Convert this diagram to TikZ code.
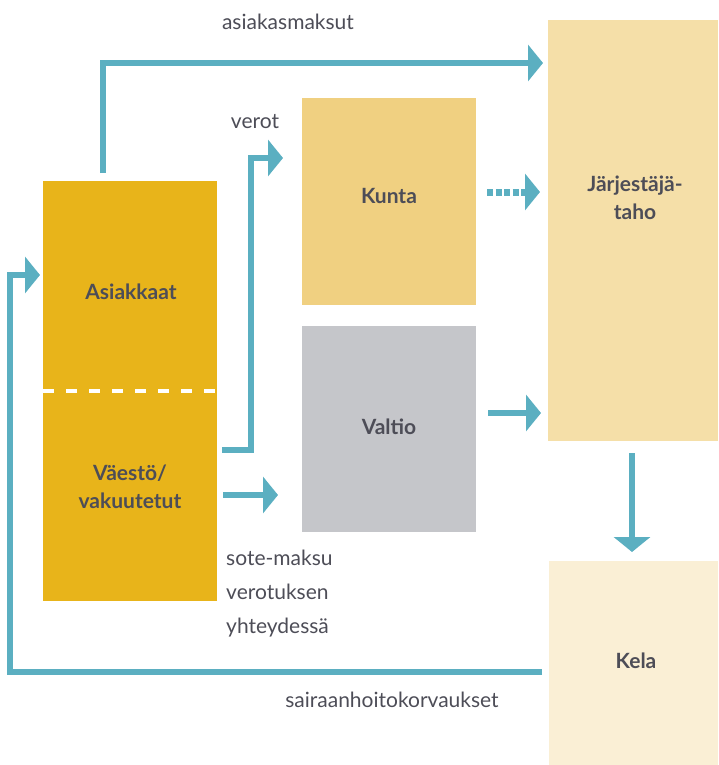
\documentclass[tikz,border=0pt]{standalone}
\usepackage{fontspec}
\setmainfont{Lato}
\usetikzlibrary{arrows.meta,calc}
\definecolor{flowc}{HTML}{5BAFC1}
\definecolor{goldc}{HTML}{E8B41A}
\definecolor{kuntac}{HTML}{F0D081}
\definecolor{valtioc}{HTML}{C5C6CA}
\definecolor{jtc}{HTML}{F5DFA8}
\definecolor{kelac}{HTML}{FAEFD5}
\definecolor{txtc}{HTML}{4D4D57}
\tikzset{
  box/.style={draw=none, inner sep=0pt, anchor=north west},
  lbl/.style={text=txtc, font=\fontsize{21}{28}\selectfont\bfseries, align=center, inner sep=0pt},
  flowlabel/.style={text=txtc, font=\fontsize{21}{34}\selectfont, inner sep=0pt},
  flow/.style={draw=flowc, line width=6pt, -{Triangle[length=15pt, width=36pt]}},
  dotted flow/.style={flow, line width=7pt, dash pattern=on 6pt off 2.4pt}
}
\begin{document}
\begin{tikzpicture}[x=1pt, y=-1pt]
\useasboundingbox (0,0) rectangle (718,765);
% boxes
\node[box, fill=goldc, minimum width=174pt, minimum height=420pt] (pop) at (43,181) {};
\node[box, fill=kuntac, minimum width=174pt, minimum height=207pt] (kunta) at (302,98) {};
\node[box, fill=valtioc, minimum width=174pt, minimum height=206pt] (valtio) at (302,326) {};
\node[box, fill=jtc, minimum width=170pt, minimum height=421pt] (jt) at (548,20) {};
\node[box, fill=kelac, minimum width=169pt, minimum height=204pt] (kela) at (549,561) {};
% divider
\draw[white, line width=4pt, dash pattern=on 11pt off 12pt] (pop.west |- 0,391) -- (pop.east |- 0,391);
% box labels
\node[lbl] (asiakkaat) at (131,292) {Asiakkaat};
\node[lbl] (vaesto) at (130,487) {Väestö/\\vakuutetut};
\node[lbl] (kuntat) at (389,196) {Kunta};
\node[lbl] (valtiot) at (389,427) {Valtio};
\node[lbl] (jtt) at (635,198) {Järjestäjä-\\taho};
\node[lbl] (kelat) at (636,661) {Kela};
% connector labels
\node[flowlabel] (asmak) at (288,22) {asiakasmaksut};
\node[flowlabel] (verot) at (255,122) {verot};
\node[flowlabel, anchor=west, align=left] (sote) at (226,594) {sote-maksu\\verotuksen\\yhteydessä};
\node[flowlabel] (sair) at (392,700) {sairaanhoitokorvaukset};
% connectors
\draw[flow] ($(pop.north -| 103,0)+(0,-8)$) |- ($(jt.west |- 0,63)+(-5,0)$);
\draw[flow] ($(pop.east |- 0,450)+(5,0)$) -| (251,158) -- ($(kunta.west |- 0,158)+(-19,0)$);
\draw[flow] ($(pop.east |- 0,495)+(6,0)$) -- ($(valtio.west |- 0,495)+(-24,0)$);
\draw[dotted flow] ($(kunta.east |- 0,192)+(11,0)$) -- ($(jt.west |- 0,192)+(-8,0)$);
\draw[flow] ($(valtio.east |- 0,413)+(12,0)$) -- ($(jt.west |- 0,413)+(-7,0)$);
\draw[flow] ($(jt.south -| 632,0)+(0,12)$) -- ($(kela.north -| 632,0)+(0,-9)$);
\draw[flow] ($(kela.west |- 0,672)+(-7,0)$) -| (10,275) -- ($(pop.west |- 0,275)+(-3,0)$);
\end{tikzpicture}
\end{document}
